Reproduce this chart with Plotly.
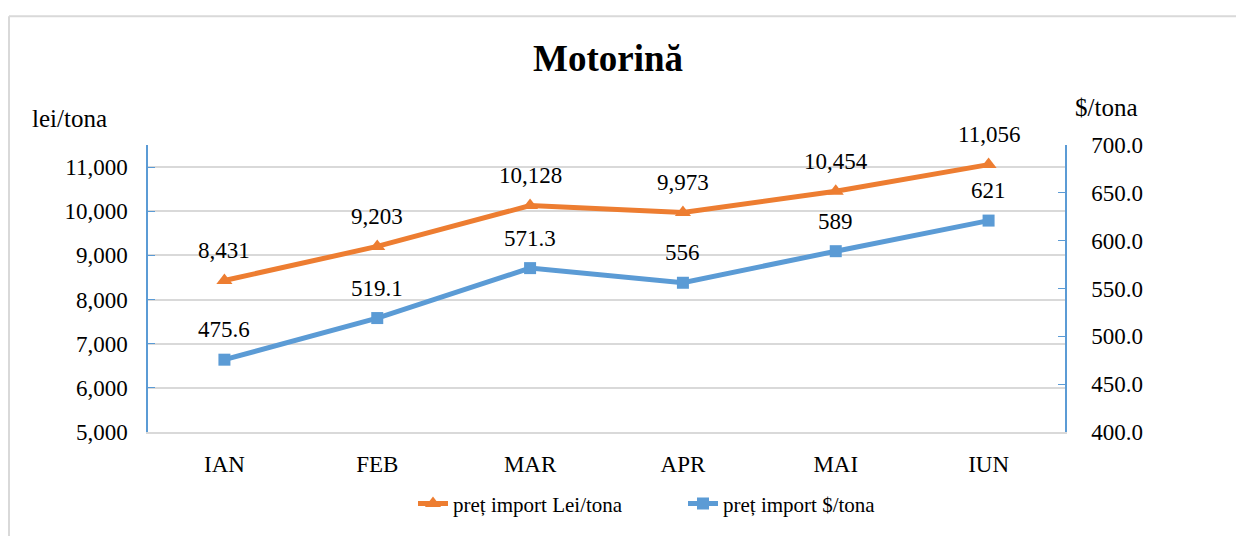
import plotly.graph_objects as go

months = ["IAN", "FEB", "MAR", "APR", "MAI", "IUN"]
lei_values = [8431, 9203, 10128, 9973, 10454, 11056]
usd_values = [475.6, 519.1, 571.3, 556, 589, 621]
name_lei = "preț import Lei/tona"
name_usd = "preț import $/tona"

ORANGE = "#ED7D31"
BLUE = "#5B9BD5"
GRID = "#D9D9D9"
FONT = "Liberation Serif, Times New Roman, Tinos, serif"

OFF = 8  # page margin of the html body
# plot area in reference pixels
L, R, T, B = 148, 1065, 145, 437
W, H = 1244 - OFF, 536 - OFF
pw, ph = R - L, B - T


def px(x):
    return (x - L) / pw


def py(y):
    return (B - y) / ph


fig = go.Figure()
fig.add_trace(go.Scatter(
    x=months, y=lei_values, name=name_lei, mode="lines+markers",
    line=dict(color=ORANGE, width=5),
    marker=dict(symbol="triangle-up", size=14, color=ORANGE),
    yaxis="y",
))
fig.add_trace(go.Scatter(
    x=months, y=usd_values, name=name_usd, mode="lines+markers",
    line=dict(color=BLUE, width=5),
    marker=dict(symbol="square", size=12, color=BLUE),
    yaxis="y2",
))

TXT = dict(family=FONT, size=23, color="#000")
TITLE_TXT = dict(family=FONT, size=25, color="#000")
annotations = []
for m, v in zip(months, lei_values):
    annotations.append(dict(x=m, y=v, xref="x", yref="y", text=f"{v:,}",
                            showarrow=False, yshift=30, font=TXT))
for m, v in zip(months, usd_values):
    annotations.append(dict(x=m, y=v, xref="x", yref="y2", text=f"{v:g}",
                            showarrow=False, yshift=30, font=TXT))
annotations.append(dict(x=px(30), y=py(118), xref="paper", yref="paper",
                        text="lei/tona", showarrow=False, xanchor="left",
                        yanchor="middle", font=TITLE_TXT))
annotations.append(dict(x=px(1073), y=py(107), xref="paper", yref="paper",
                        text="$/tona", showarrow=False, xanchor="left",
                        yanchor="middle", font=TITLE_TXT))
annotations.append(dict(x=px(608), y=py(57), xref="paper", yref="paper",
                        text="<b>Motorină</b>", showarrow=False, xanchor="center",
                        yanchor="middle", font=dict(family=FONT, size=37, color="#000")))

shapes = [
    dict(type="line", xref="paper", yref="paper", x0=px(9), x1=px(1260),
         y0=py(14), y1=py(14), line=dict(color=GRID, width=2)),
    dict(type="line", xref="paper", yref="paper", x0=px(9), x1=px(9),
         y0=py(14), y1=py(560), line=dict(color=GRID, width=2)),
]

fig.update_layout(
    width=W, height=H,
    margin=dict(l=L - OFF, r=1244 - R, t=T - OFF, b=536 - B, pad=0),
    paper_bgcolor="white", plot_bgcolor="white",
    font=TXT,
    showlegend=True,
    legend=dict(orientation="h", x=px(413), y=py(510), xanchor="left",
                yanchor="middle", font=dict(family=FONT, size=21, color="#000"),
                entrywidth=225, entrywidthmode="pixels",
                bgcolor="rgba(0,0,0,0)"),
    annotations=annotations,
    shapes=shapes,
    xaxis=dict(range=[-0.5, 5.5], showline=True, linecolor=GRID, linewidth=2,
               showgrid=False, ticks="", ticklabelstandoff=10,
               tickfont=TXT, zeroline=False),
    yaxis=dict(range=[5000, 11500], tick0=5000, dtick=1000, tickformat=",",
               showline=True, linecolor=BLUE, linewidth=1.5,
               ticks="inside", ticklen=7, tickcolor=BLUE,
               showgrid=True, gridcolor=GRID, gridwidth=2, zeroline=False,
               ticklabelstandoff=14, tickfont=TXT),
    yaxis2=dict(range=[400, 700], tick0=400, dtick=50, tickformat=".1f",
                overlaying="y", side="right",
                showline=True, linecolor=BLUE, linewidth=1.5,
                ticks="inside", ticklen=7, tickcolor=BLUE,
                showgrid=False, zeroline=False, ticklabelstandoff=20,
                tickfont=TXT),
)

fig.write_html("out.html")
